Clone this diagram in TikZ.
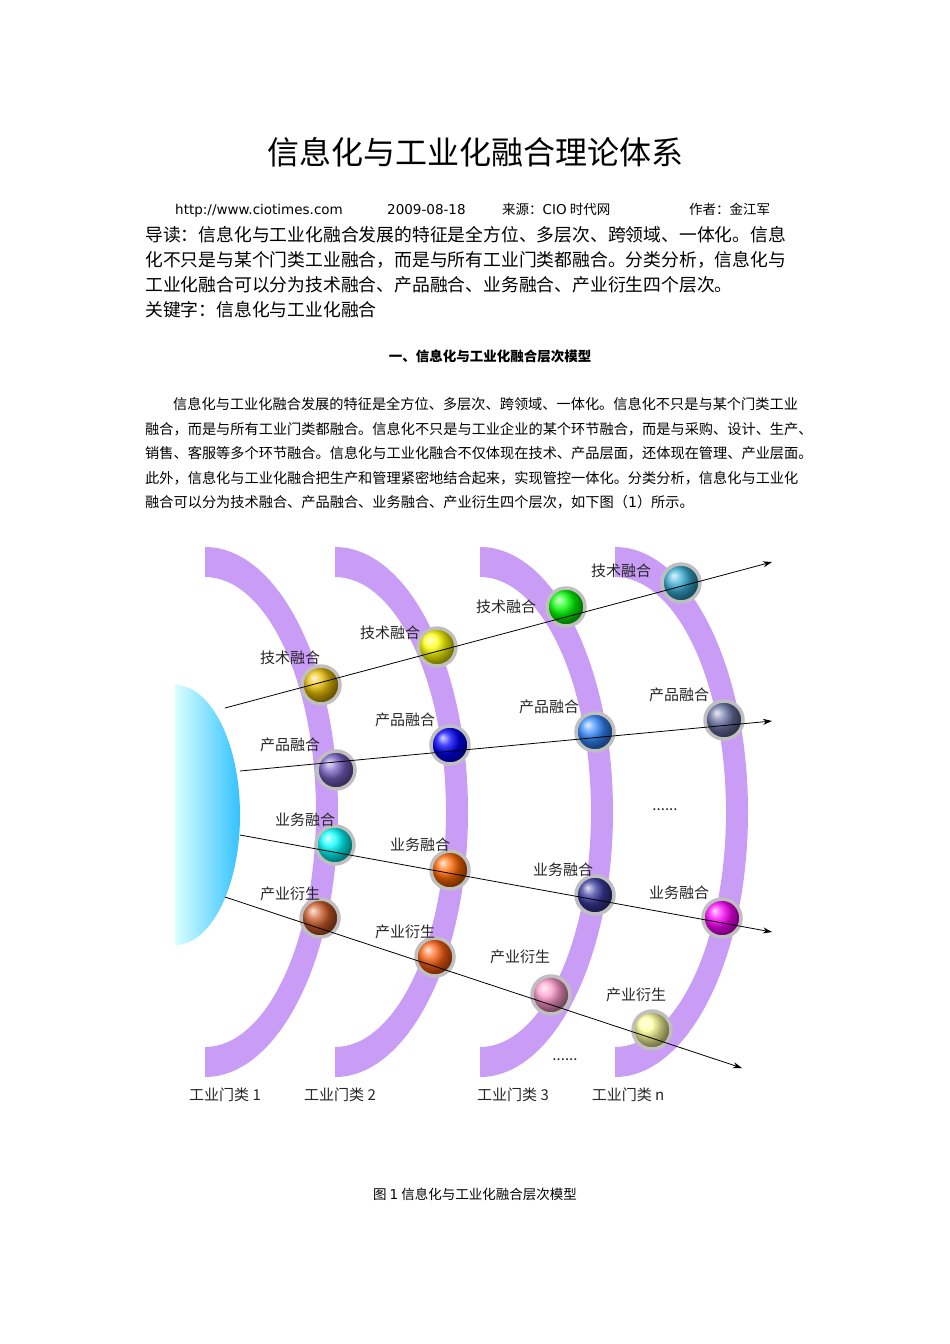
\documentclass[tikz,border=0pt]{standalone}
\usepackage{fontspec}
\setmainfont{Noto Sans CJK SC}
\newfontfamily\latinsans{DejaVu Sans}
\usetikzlibrary{arrows.meta}
\definecolor{band}{HTML}{C99CF5}
\tikzset{
  ball/.style={circle, minimum size=38pt, inner sep=0pt, draw=gray!50, line width=3.5pt, shading=ball},
  lab/.style={font=\fontsize{15}{15}\selectfont, inner sep=0pt, text=black!85},
  flow/.style={line width=0.8pt, -{Stealth[length=9pt,width=6pt]}},
  bline/.style={anchor=base west, inner sep=0pt, font=\fontsize{14.2}{14.2}\selectfont},
  iline/.style={anchor=base west, inner sep=0pt, font=\fontsize{17.8}{17.8}\selectfont},
}
\begin{document}
\begin{tikzpicture}[x=1pt,y=-1pt]
\useasboundingbox[fill=white] (0,0) rectangle (950,1344);
% header
\node[font=\fontsize{32}{32}\selectfont, inner sep=0] (title) at (475,152) {信息化与工业化融合理论体系};
\node[anchor=base west, inner sep=0, font=\fontsize{13.5}{13.5}\selectfont] (url) at (175,214) {\latinsans http://www.ciotimes.com};
\node[anchor=base west, inner sep=0, font=\fontsize{13.5}{13.5}\selectfont] (date) at (387,214) {\latinsans 2009-08-18};
\node[anchor=base west, inner sep=0, font=\fontsize{13.5}{13.5}\selectfont] (src) at (502,214) {来源：{\latinsans CIO} 时代网};
\node[anchor=base west, inner sep=0, font=\fontsize{13.5}{13.5}\selectfont] (auth) at (689,214) {作者：金江军};
\node[iline] (i1) at (145,241) {导读：信息化与工业化融合发展的特征是全方位、多层次、跨领域、一体化。信息};
\node[iline] (i2) at (145,266) {化不只是与某个门类工业融合，而是与所有工业门类都融合。分类分析，信息化与};
\node[iline] (i3) at (145,291) {工业化融合可以分为技术融合、产品融合、业务融合、产业衍生四个层次。};
\node[iline] (i4) at (145,316) {关键字：信息化与工业化融合};
\node[font=\fontsize{13.5}{13.5}\selectfont\bfseries, inner sep=0] (sec) at (490,356) {一、信息化与工业化融合层次模型};
\node[bline] (b1) at (173,409) {信息化与工业化融合发展的特征是全方位、多层次、跨领域、一体化。信息化不只是与某个门类工业};
\node[bline] (b2) at (145,434) {融合，而是与所有工业门类都融合。信息化不只是与工业企业的某个环节融合，而是与采购、设计、生产、};
\node[bline] (b3) at (145,458) {销售、客服等多个环节融合。信息化与工业化融合不仅体现在技术、产品层面，还体现在管理、产业层面。};
\node[bline] (b4) at (145,483) {此外，信息化与工业化融合把生产和管理紧密地结合起来，实现管控一体化。分类分析，信息化与工业化};
\node[bline] (b5) at (145,507) {融合可以分为技术融合、产品融合、业务融合、产业衍生四个层次，如下图（{\latinsans 1}）所示。};
% bands
\foreach \dx in {0,130,275,410}{
  \fill[band] (205+\dx,547) arc[start angle=-90,end angle=90,x radius=133,y radius=265]
     -- (205+\dx,1047) arc[start angle=90,end angle=-90,x radius=111,y radius=235] -- cycle;
}
% half disk
\shade[left color=cyan!15, right color=cyan!70!blue!80] (175,685) arc[start angle=-90,end angle=90,x radius=65,y radius=130] -- cycle;
\coordinate (s1) at (225,708); \coordinate (e1) at (772,562);
\coordinate (s2) at (240,771); \coordinate (e2) at (772,721);
\coordinate (s3) at (240,835); \coordinate (e3) at (772,932);
\coordinate (s4) at (225,897); \coordinate (e4) at (742,1068);
% balls
\node[ball, ball color={rgb,255:red,232;green,188;blue,0}] (t1) at (321,685) {};
\node[ball, ball color=yellow] (t2) at (437,647) {};
\node[ball, ball color=green] (t3) at (566,607) {};
\node[ball, ball color={rgb,255:red,52;green,170;blue,210}] (t4) at (681,583) {};
\node[ball, ball color={rgb,255:red,120;green,95;blue,195}] (p1) at (336,770) {};
\node[ball, ball color=blue] (p2) at (450,745) {};
\node[ball, ball color={rgb,255:red,52;green,137;blue,255}] (p3) at (595,732) {};
\node[ball, ball color={rgb,255:red,106;green,114;blue,165}] (p4) at (724,720) {};
\node[ball, ball color=cyan] (y1) at (335,845) {};
\node[ball, ball color={rgb,255:red,255;green,102;blue,0}] (y2) at (450,870) {};
\node[ball, ball color={rgb,255:red,58;green,58;blue,160}] (y3) at (595,895) {};
\node[ball, ball color=magenta] (y4) at (722,918) {};
\node[ball, ball color={rgb,255:red,205;green,90;blue,40}] (c1) at (320,918) {};
\node[ball, ball color={rgb,255:red,255;green,96;blue,16}] (c2) at (435,957) {};
\node[ball, ball color={rgb,255:red,255;green,153;blue,204}] (c3) at (551,995) {};
\node[ball, ball color={rgb,255:red,255;green,255;blue,153}] (c4) at (652,1030) {};
% flows
\draw[flow] (s1) -- (e1);
\draw[flow] (s2) -- (e2);
\draw[flow] (s3) -- (e3);
\draw[flow] (s4) -- (e4);
% labels
\node[lab] (lt1) at (290,658) {技术融合};
\node[lab] (lt2) at (390,633) {技术融合};
\node[lab] (lt3) at (506,607) {技术融合};
\node[lab] (lt4) at (621,571) {技术融合};
\node[lab] (lp1) at (290,745) {产品融合};
\node[lab] (lp2) at (405,720) {产品融合};
\node[lab] (lp3) at (549,707) {产品融合};
\node[lab] (lp4) at (679,695) {产品融合};
\node[lab] (ly1) at (305,820) {业务融合};
\node[lab] (ly2) at (420,845) {业务融合};
\node[lab] (ly3) at (563,870) {业务融合};
\node[lab] (ly4) at (679,893) {业务融合};
\node[lab] (lc1) at (290,894) {产业衍生};
\node[lab] (lc2) at (405,932) {产业衍生};
\node[lab] (lc3) at (520,957) {产业衍生};
\node[lab] (lc4) at (636,995) {产业衍生};
\node[lab] (d1) at (665,810) {......};
\node[lab] (d2) at (565,1060) {......};
\node[lab] (g1) at (225,1095) {工业门类 1};
\node[lab] (g2) at (340,1095) {工业门类 2};
\node[lab] (g3) at (513,1095) {工业门类 3};
\node[lab] (g4) at (628,1095) {工业门类 n};
\node[font=\fontsize{13.5}{13.5}\selectfont, inner sep=0] (cap) at (475,1194) {图 {\latinsans 1} 信息化与工业化融合层次模型};
\end{tikzpicture}
\end{document}
